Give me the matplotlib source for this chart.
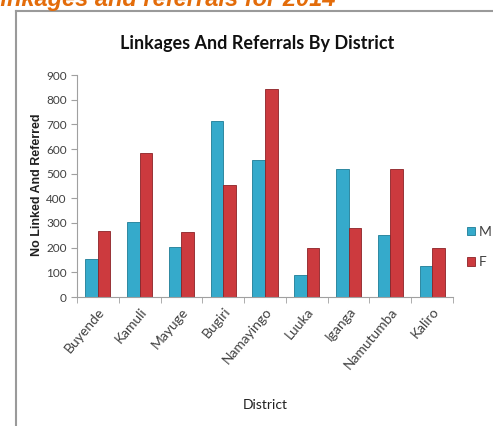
import numpy as np
import matplotlib.pyplot as plt
from matplotlib.lines import Line2D

districts = ["Buyende", "Kamuli", "Mayuge", "Bugiri", "Namayingo",
             "Luuka", "Iganga", "Namutumba", "Kaliro"]
male = [154, 306, 201, 713, 556, 88, 519, 250, 125]
female = [267, 584, 262, 456, 843, 198, 278, 519, 197]
yticks = [0, 100, 200, 300, 400, 500, 600, 700, 800, 900]

narrow = ["Lato", "DejaVu Sans"]
c_m, c_f = "#35aacb", "#cc3a3e"
e_m, e_f = "#1d7c96", "#8c2226"

fig = plt.figure(figsize=(4.93, 4.26), dpi=100)
ax = fig.add_axes([77 / 493, 1 - 297 / 426, 376 / 493, 222 / 426])

x = np.arange(len(districts))
w = 0.3
ax.bar(x - w / 2, male, w, color=c_m, edgecolor=e_m, linewidth=0.6, label="M")
ax.bar(x + w / 2, female, w, color=c_f, edgecolor=e_f, linewidth=0.6, label="F")

ax.set_xlim(-0.5, len(districts) - 0.5)
ax.set_ylim(0, 900)
ax.set_yticks(yticks)
ax.set_yticklabels([str(v) for v in yticks], family=narrow, fontsize=8.5, color="#404040")
ax.set_xticks(x)
ax.set_xticklabels(districts, rotation=50, ha="right", rotation_mode="anchor",
                   family=narrow, fontsize=10, color="#404040")
ax.tick_params(axis="x", length=0, pad=6)
ax.set_xticks(np.arange(-0.5, len(districts)), minor=True)
ax.tick_params(axis="x", which="minor", length=4, color="#a0a0a0")
ax.tick_params(axis="y", length=4, color="#a0a0a0")
for s in ["top", "right"]:
    ax.spines[s].set_visible(False)
for s in ["left", "bottom"]:
    ax.spines[s].set_color("#a0a0a0")
    ax.spines[s].set_linewidth(0.8)

fig.text(37 / 493, 1 - 185 / 426, "No Linked And Referred", rotation=90,
         ha="center", va="center", fontsize=9, fontweight="bold",
         family=["Liberation Sans", "DejaVu Sans"], color="#202020")

fig.text(265 / 493, 1 - 405 / 426, "District", ha="center", va="center",
         fontsize=10, family=narrow, color="#202020")
fig.text(257 / 493, 1 - 44 / 426, "Linkages And Referrals By District",
         ha="center", va="center", fontsize=13, fontweight="bold",
         family=narrow, color="#101010")

leg = fig.legend(loc="center left", bbox_to_anchor=(467 / 493, 1 - 247 / 426),
                 frameon=False, prop={"family": narrow, "size": 10},
                 handlelength=0.6, handleheight=0.6, handletextpad=0.25,
                 labelspacing=1.3, borderaxespad=0, borderpad=0)
for t in leg.get_texts():
    t.set_color("#404040")

# cropped slide heading and frame of the chart box
fig.text(-14 / 493, 1 - 6 / 426, "Linkages and referrals for 2014", ha="left",
         va="baseline", fontsize=17, fontweight="bold", fontstyle="italic",
         family=["Liberation Sans", "DejaVu Sans"], color="#e36c0a")
fig.add_artist(Line2D([15.5 / 493, 15.5 / 493], [0, 1 - 11 / 426],
                      transform=fig.transFigure, color="#9a9a9a", lw=1.5))
fig.add_artist(Line2D([15.5 / 493, 1], [1 - 11 / 426, 1 - 11 / 426],
                      transform=fig.transFigure, color="#9a9a9a", lw=1.5))

fig.savefig("out.png", dpi=100)
